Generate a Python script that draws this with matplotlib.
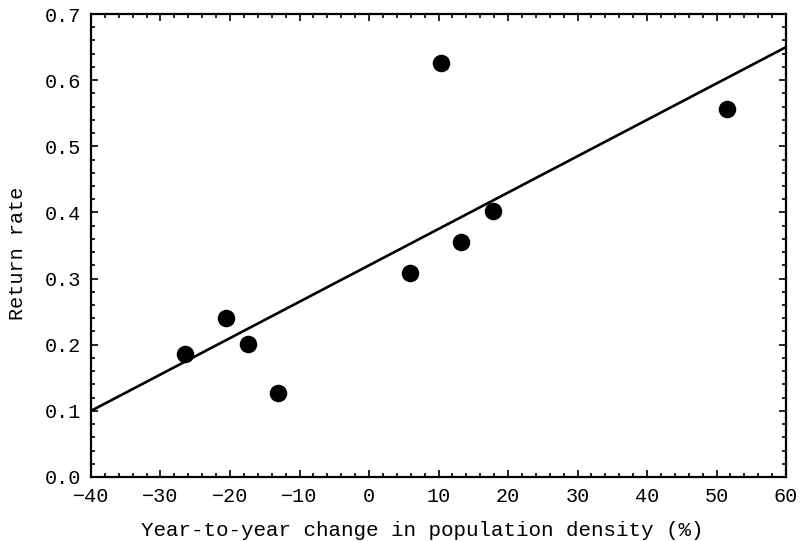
import matplotlib
matplotlib.use("Agg")
import matplotlib.pyplot as plt
from matplotlib.ticker import MultipleLocator

# density change (%) vs return rate
density_change = [-26.5, -20.6, -17.4, -13.1, 5.9, 10.4, 13.2, 17.8, 51.5]
return_rate = [0.186, 0.240, 0.201, 0.127, 0.309, 0.626, 0.356, 0.402, 0.557]

# fitted line end points
fit_x = [-40, 60]
fit_y = [0.10, 0.65]

plt.rcParams['font.family'] = ['Liberation Mono', 'DejaVu Sans Mono']

fig = plt.figure(figsize=(8.06, 5.41), dpi=100)
ax = fig.add_axes([0.1129, 0.1183, 0.8623, 0.8558])

ax.plot(fit_x, fit_y, color='black', lw=1.9)
ax.scatter(density_change, return_rate, s=135, color='black', zorder=3)

ax.set_xlim(-40, 60)
ax.set_ylim(0, 0.7)
ax.xaxis.set_major_locator(MultipleLocator(10))
ax.xaxis.set_minor_locator(MultipleLocator(2))
ax.yaxis.set_minor_locator(MultipleLocator(0.02))
ax.set_yticks([i / 10 for i in range(8)])
ax.set_yticklabels(['0.0', '0.1', '0.2', '0.3', '0.4', '0.5', '0.6', '0.7'])

ax.tick_params(which='both', direction='in', top=True, right=True, labelsize=14.5, width=1.2)
ax.tick_params(which='major', length=5, pad=7)
ax.tick_params(which='minor', length=3)
for sp in ax.spines.values():
    sp.set_linewidth(1.6)

ax.set_xlabel('Year-to-year change in population density (%)', fontsize=15)
ax.xaxis.set_label_coords(0.476, -0.094)
ax.set_ylabel('Return rate', fontsize=14.5)
ax.yaxis.set_label_coords(-0.092, 0.484)

fig.savefig('out.png', dpi=100)
